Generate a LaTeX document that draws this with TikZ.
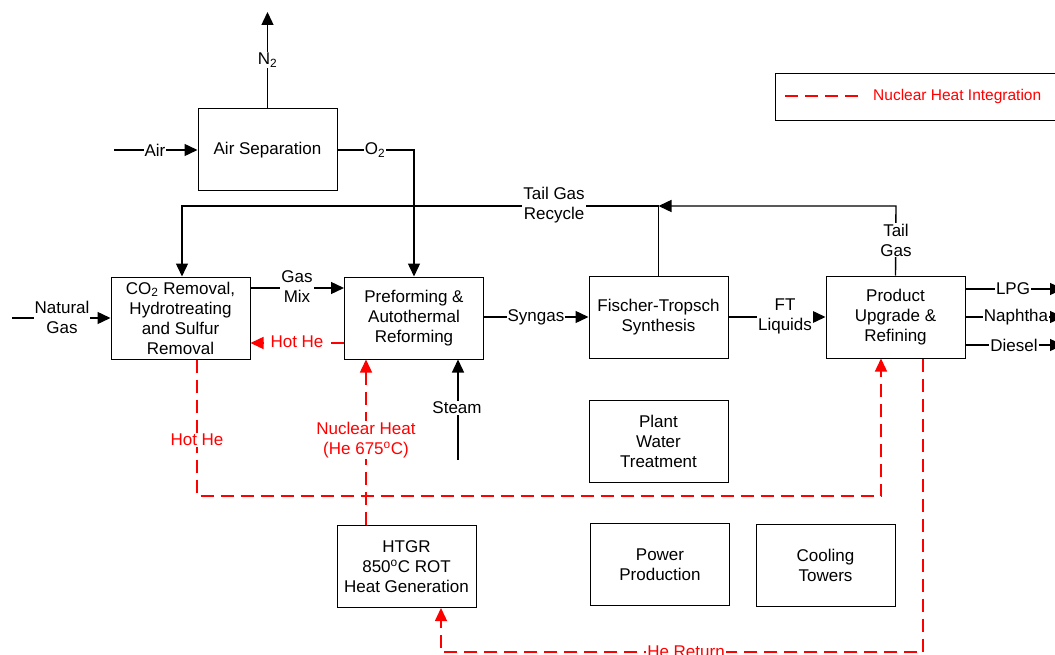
\documentclass[tikz,border=0pt]{standalone}
\usepackage{fontspec}
\setmainfont{Liberation Sans}
\usetikzlibrary{arrows.meta}
\definecolor{heat}{RGB}{255,0,0}
\tikzset{
  x=1pt, y=-1pt,
  txt/.style={font=\fontsize{17}{20}\selectfont, align=center},
  unit/.style={txt, draw, line width=1pt, minimum width=139pt, minimum height=82pt, inner sep=0pt},
  tip/.style={-{Triangle[length=13pt,width=12pt]}},
  flow/.style={line width=1.4pt, tip},
  plain/.style={line width=1.4pt},
  lbl/.style={txt, fill=white, inner sep=1pt},
  hot/.style={line width=1.4pt, heat, dash pattern=on 13pt off 7pt},
  hotflow/.style={hot, tip},
  hlbl/.style={lbl, text=heat},
}
\begin{document}
\begin{tikzpicture}
\useasboundingbox (0,0) rectangle (1055,655);
\clip (0,0) rectangle (1055,655);

% process units
\node[unit] (asu)  at (267.5,150) {Air Separation};
\node[unit] (co2)  at (180.5,318) {CO\textsubscript{2} Removal,\\Hydrotreating\\and Sulfur\\Removal};
\node[unit] (ref)  at (414,318)   {Preforming \&\\Autothermal\\Reforming};
\node[unit] (ft)   at (658.5,317) {Fischer-Tropsch\\Synthesis};
\node[unit] (pu)   at (895.5,317) {Product\\Upgrade \&\\Refining};
\node[unit] (pwt)  at (658.5,441) {Plant\\Water\\Treatment};
\node[unit] (htgr) at (406.5,566.5) {HTGR\\850\textsuperscript{o}C ROT\\Heat Generation};
\node[unit] (pp)   at (660,564.5) {Power\\Production};
\node[unit] (ct)   at (825.5,565.5) {Cooling\\Towers};

% legend
\node[draw, line width=1pt, minimum width=290pt, minimum height=47pt, anchor=north west] (leg) at (775,73) {};
\coordinate (lega) at (785,96);
\coordinate (legb) at (862,96);
\draw[hot] (lega) -- (legb);
\node[anchor=west, text=heat, font=\fontsize{15.5}{18}\selectfont, inner sep=0pt] (legt) at (873,96) {Nuclear Heat Integration};

% air separation streams
\coordinate (n2top) at (267.5,12);
\draw[flow] (asu.north) -- (n2top);
\node[lbl] (n2) at (267.5,60) {N\textsubscript{2}};
\coordinate (airin) at (114,150);
\draw[flow] (airin) -- (asu.west);
\node[lbl] (air) at (155,150) {Air};
\coordinate (o2turn) at (414,150);
\draw[flow] (asu.east) -- (o2turn) -- (ref.north);
\node[lbl] (o2) at (375,150) {O\textsubscript{2}};

% tail gas recycle loop
\coordinate (tgtop) at (896,206);
\coordinate (tgjoin) at (658.5,206);
\coordinate (tgleft) at (182,206);
\draw[flow] (pu.north) -- (tgtop) -- (tgjoin);
\draw[plain] (ft.north) -- (tgjoin);
\draw[flow] (tgjoin) -- (tgleft) -- (co2.north -| tgleft);
\node[lbl] (tgr) at (554,205) {Tail Gas\\Recycle};
\node[lbl] (tg) at (896,240) {Tail\\Gas};

% main process line
\coordinate (ngin) at (12,318);
\draw[flow] (ngin) -- (co2.west);
\node[lbl] (ng) at (62,317) {Natural\\Gas};
\draw[flow] (co2.east |- 0,288) -- (ref.west |- 0,288);
\node[lbl] (gm) at (297,287) {Gas\\Mix};
\draw[flow] (ref.east |- 0,317) -- (ft.west);
\node[lbl] (sg) at (536,317) {Syngas};
\draw[flow] (ft.east) -- (pu.west);
\node[lbl] (ftl) at (785,316) {FT\\Liquids};

% products
\coordinate (lpgout) at (1063,289);
\coordinate (napout) at (1063,317);
\coordinate (dieout) at (1063,345);
\draw[flow] (pu.east |- lpgout) -- (lpgout);
\draw[flow] (pu.east |- napout) -- (napout);
\draw[flow] (pu.east |- dieout) -- (dieout);
\node[lbl] (lpg) at (1013,289) {LPG};
\node[lbl] (nap) at (1016,317) {Naphtha};
\node[lbl] (die) at (1014,345) {Diesel};

% steam
\coordinate (stin) at (458,460);
\draw[flow] (stin) -- (ref.south -| stin);
\node[lbl] (st) at (457,408) {Steam};

% nuclear heat integration
\draw[hotflow] (ref.west |- 0,343) -- (co2.east |- 0,343);
\node[hlbl] (hh1) at (297,342) {Hot He};

\coordinate (hhdown) at (197,496);
\coordinate (hhright) at (881,496);
\draw[hotflow] (co2.south -| hhdown) -- (hhdown) -- (hhright) -- (pu.south -| hhright);
\node[hlbl] (hh2) at (197,440) {Hot He};

\draw[hotflow] (htgr.north -| 366,0) -- (ref.south -| 366,0);
\node[hlbl] (nh) at (366,440) {Nuclear Heat\\(He 675\textsuperscript{o}C)};

\coordinate (retdown) at (923,652);
\coordinate (retleft) at (441,652);
\draw[hotflow] (pu.south -| retdown) -- (retdown) -- (retleft) -- (htgr.south -| retleft);
\node[hlbl] (ret) at (686,652) {He Return};
\end{tikzpicture}
\end{document}
